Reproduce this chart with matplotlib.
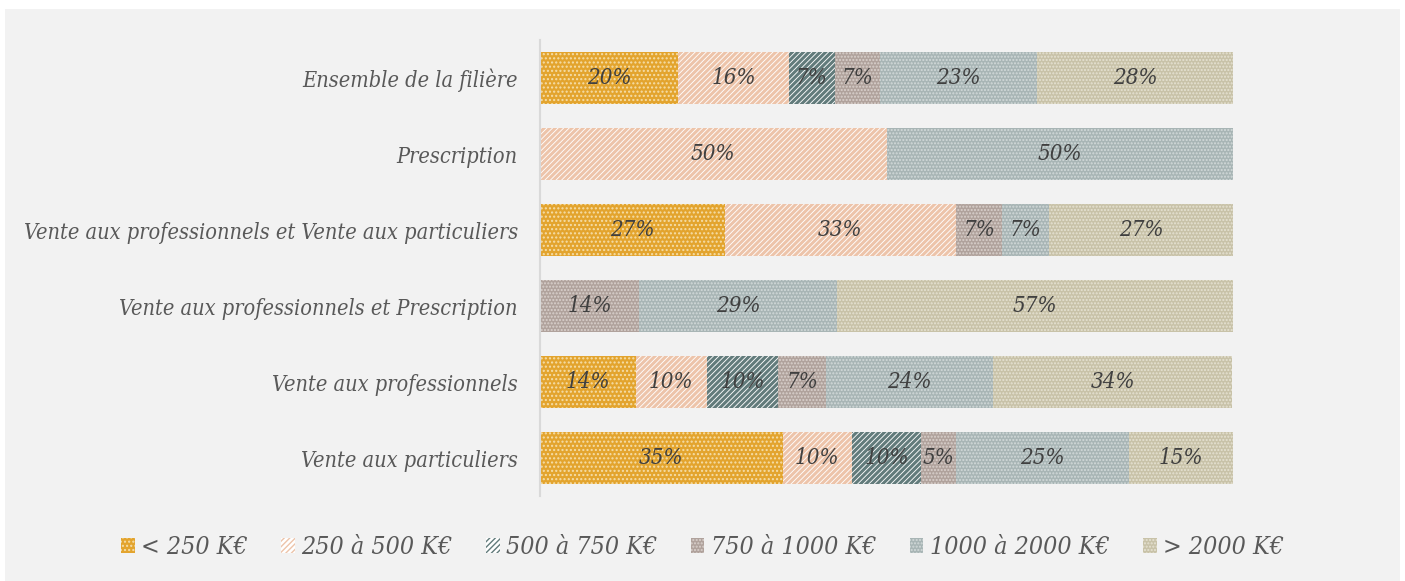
import matplotlib
matplotlib.use("Agg")
import matplotlib.pyplot as plt
from matplotlib.patches import Patch, Rectangle
import numpy as np

categories = [
    "Vente aux particuliers",
    "Vente aux professionnels",
    "Vente aux professionnels et Prescription",
    "Vente aux professionnels et Vente aux particuliers",
    "Prescription",
    "Ensemble de la filière",
]
series = ["< 250 K€", "250 à 500 K€", "500 à 750 K€", "750 à 1000 K€", "1000 à 2000 K€", "> 2000 K€"]

lt250 = [35.0, 13.8, 0.0, 26.7, 0.0, 19.9]
s250_500 = [10.0, 10.3, 0.0, 33.3, 50.0, 16.0]
s500_750 = [10.0, 10.3, 0.0, 0.0, 0.0, 6.6]
s750_1000 = [5.0, 6.9, 14.3, 6.7, 0.0, 6.6]
s1000_2000 = [25.0, 24.1, 28.6, 6.7, 50.0, 22.6]
gt2000 = [15.0, 34.5, 57.1, 26.7, 0.0, 28.3]
values = [lt250, s250_500, s500_750, s750_1000, s1000_2000, gt2000]

styles = [
    dict(facecolor="#E3A42E", edgecolor="#F5DEAA", hatch="...."),
    dict(facecolor="#FFFFFF", edgecolor="#EDC4AA", hatch="//////"),
    dict(facecolor="#FFFFFF", edgecolor="#627B7B", hatch="//////"),
    dict(facecolor="#B0A29C", edgecolor="#DAD1CD", hatch="....."),
    dict(facecolor="#A8B5B5", edgecolor="#D3DADA", hatch="....."),
    dict(facecolor="#C8C2A8", edgecolor="#E6E2D3", hatch="....."),
]
hatch_lw = [1.0, 2.2, 2.2, 1.0, 1.0, 1.0]

fig = plt.figure(figsize=(14.05, 5.81), dpi=100, facecolor="white")
fig.patches.append(Rectangle((5 / 1405, 0), 1395 / 1405, 572 / 581, transform=fig.transFigure,
                             facecolor="#F2F2F2", edgecolor="none", zorder=-10))
ax = fig.add_axes([540 / 1405, 1 - 496 / 581, 693 / 1405, 456 / 581])
ax.set_facecolor("none")

font = dict(family=["DejaVu Serif Condensed", "DejaVu Serif"], stretch="condensed", style="italic")

y = np.arange(len(categories))
left = np.zeros(len(categories))
for vals, st, hlw in zip(values, styles, hatch_lw):
    v = np.array(vals)
    with plt.rc_context({"hatch.linewidth": hlw}):
        bars = ax.barh(y, v, left=left, height=0.68, linewidth=0, **st)
    for b in bars:
        if hasattr(b, "set_hatch_linewidth"):
            b.set_hatch_linewidth(hlw)
    for yi, (l, w) in enumerate(zip(left, v)):
        if w > 0:
            ax.text(l + w / 2, yi, f"{int(round(w))}%", ha="center", va="center",
                    fontsize=16, color="#404040", **font)
    left += v

ax.set_xlim(0, 100)
ax.set_ylim(-0.5, len(categories) - 0.5)
ax.set_yticks(y)
ax.set_yticklabels(categories, fontsize=15.6, color="#595959", **font)
ax.tick_params(axis="y", length=0, pad=16)
ax.set_xticks([])
for s in ["top", "right", "bottom"]:
    ax.spines[s].set_visible(False)
ax.spines["left"].set_color("#D9D9D9")
ax.spines["left"].set_linewidth(1.5)

handles = []
for s, st, hlw in zip(series, styles, hatch_lw):
    with plt.rc_context({"hatch.linewidth": hlw}):
        p = Patch(label=s, linewidth=0, **st)
    if hasattr(p, "set_hatch_linewidth"):
        p.set_hatch_linewidth(hlw)
    handles.append(p)
leg = fig.legend(handles=handles, loc="center", bbox_to_anchor=(0.5, 1 - 548 / 581), ncol=6,
                 frameon=False, handlelength=0.55, handleheight=0.55, handletextpad=0.25,
                 columnspacing=1.35, prop=dict(size=17.9, **font))
for t in leg.get_texts():
    t.set_color("#595959")

fig.savefig("out.png", dpi=100, facecolor=fig.get_facecolor())
